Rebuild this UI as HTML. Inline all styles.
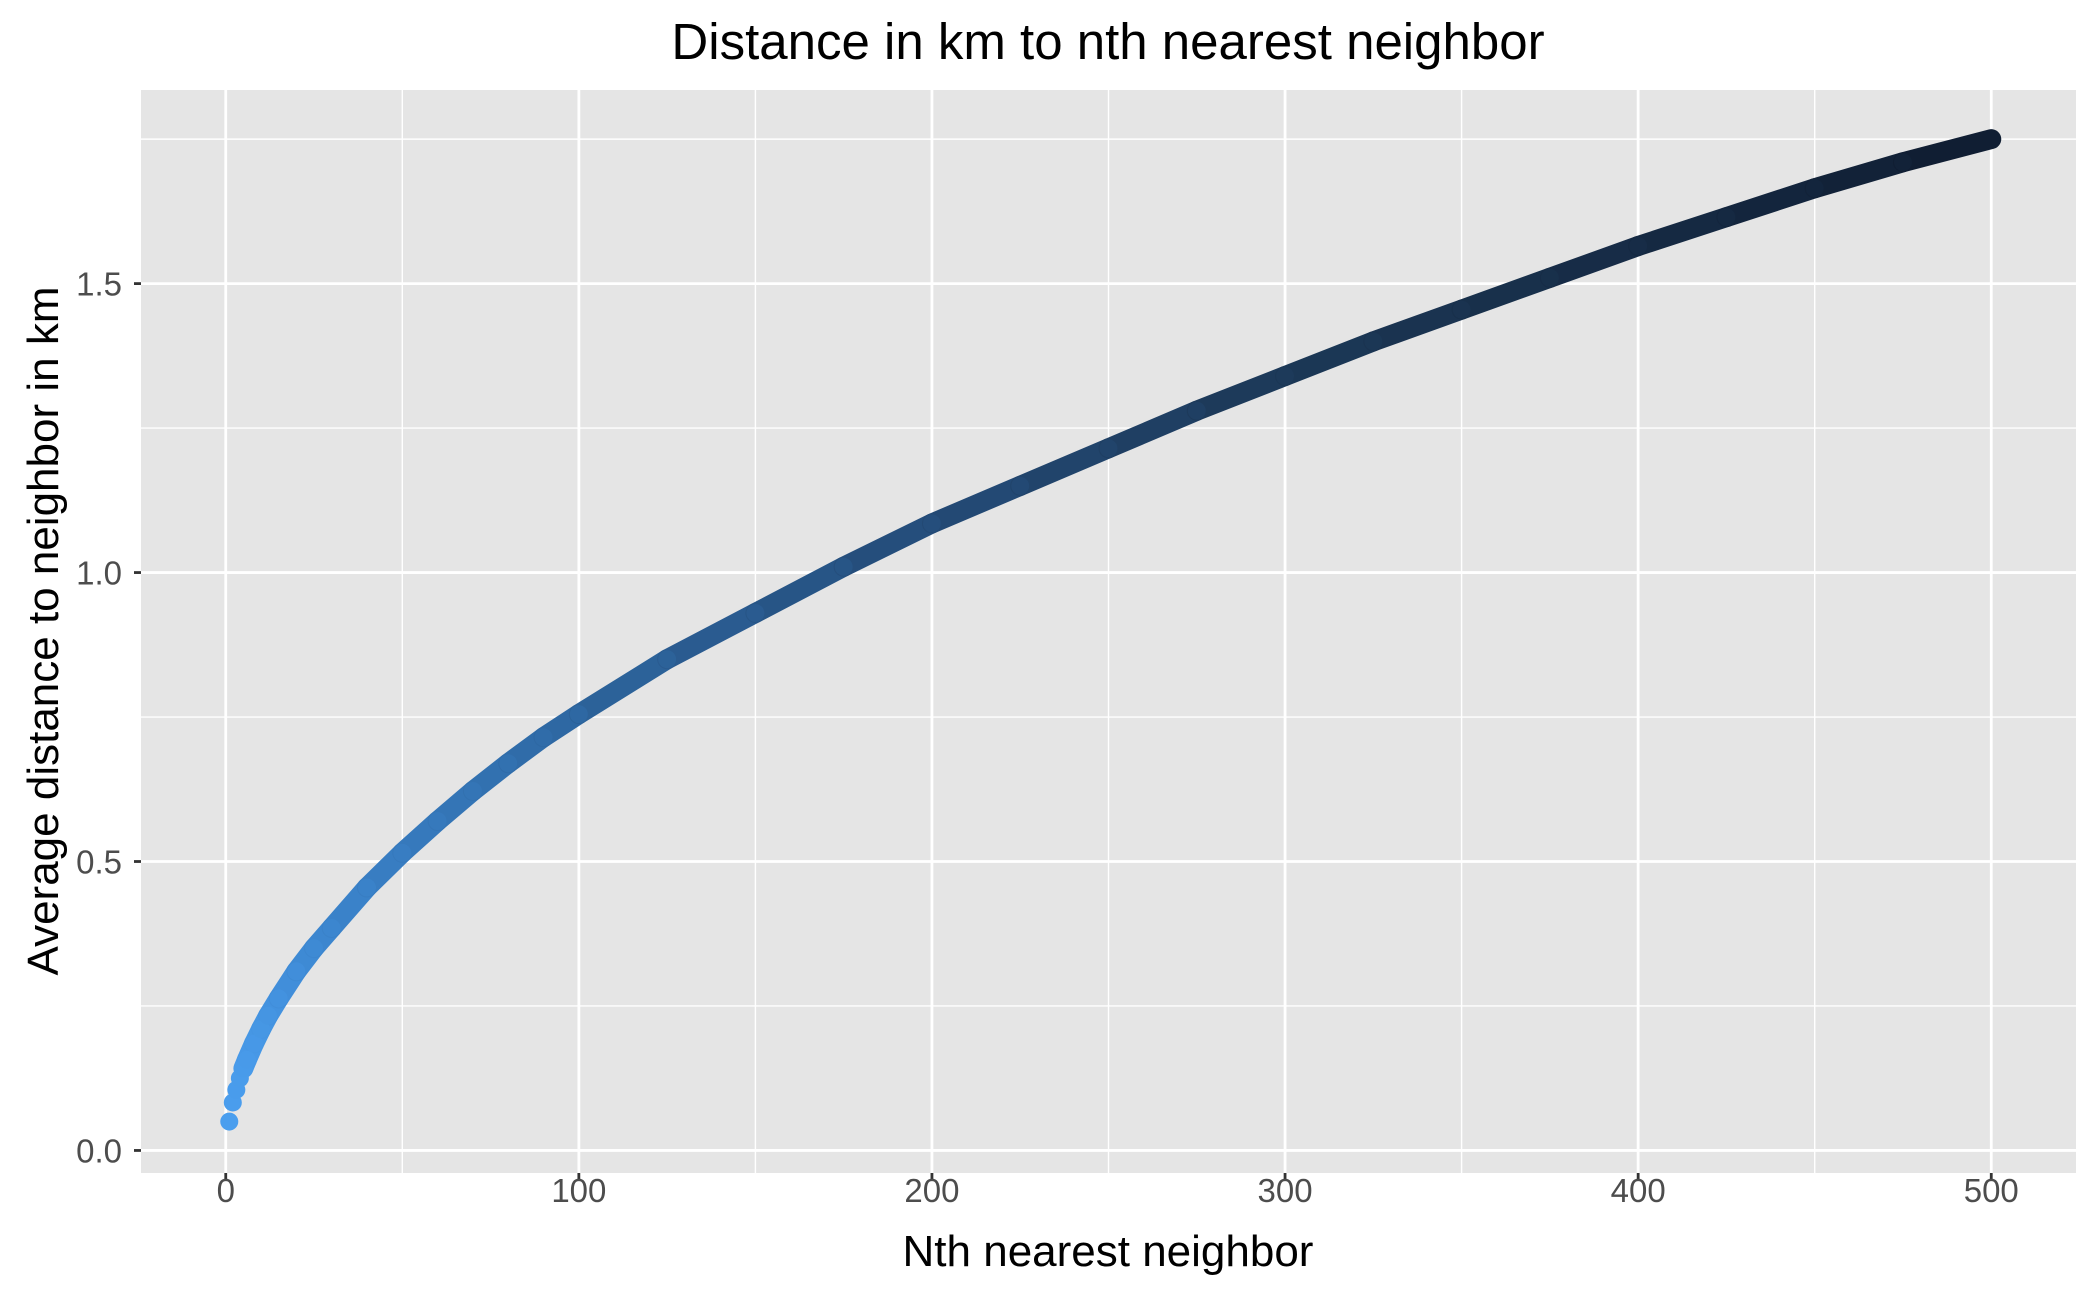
<!DOCTYPE html>
<html><head><meta charset="utf-8"><style>
html,body{margin:0;padding:0;background:#fff;}
svg{display:block;font-family:"Liberation Sans",Arial,sans-serif;}
</style></head><body>
<svg id="chart" width="2100" height="1297" viewBox="0 0 2100 1297">
<rect x="0" y="0" width="2100" height="1297" fill="#fff"/>
<rect x="141" y="90" width="1935" height="1083" fill="#E5E5E5"/>
<g id="grid"></g><g id="series"></g><g id="axes"></g>
<text x="1108" y="59" font-size="51" text-anchor="middle" fill="#000">Distance in km to nth nearest neighbor</text>
<text x="1108" y="1266" font-size="44" text-anchor="middle" fill="#000">Nth nearest neighbor</text>
<text x="0" y="0" font-size="44" text-anchor="middle" fill="#000" transform="translate(58,631) rotate(-90)">Average distance to neighbor in km</text>
</svg>
<script>
const neighborN = [1,2,3,4,5,6,8,10,12,15,20,25,30,40,50,60,70,80,90,100,125,150,175,200,225,250,275,300,325,350,375,400,425,450,475,500];
const avgDistKm = [0.05,0.083,0.105,0.125,0.142,0.157,0.185,0.21,0.233,0.263,0.31,0.35,0.385,0.455,0.515,0.57,0.622,0.67,0.715,0.755,0.85,0.93,1.01,1.085,1.15,1.215,1.28,1.34,1.40,1.455,1.51,1.565,1.615,1.665,1.71,1.75];
const xTicks = [0,100,200,300,400,500];
const xMinor = [50,150,250,350,450];
const yTicks = [0,0.5,1.0,1.5];
const yTickLabels = ["0.0","0.5","1.0","1.5"];
const yMinor = [0.25,0.75,1.25,1.75];

const NS="http://www.w3.org/2000/svg";
const px0=141, px1=2076, py0=90, py1=1173;
const xmin=-24, xmax=524, ymin=-0.039, ymax=1.835;
const X=v=>px0+(v-xmin)/(xmax-xmin)*(px1-px0);
const Y=v=>py1-(v-ymin)/(ymax-ymin)*(py1-py0);
function mk(tag,attrs,parent){const e=document.createElementNS(NS,tag);for(const k in attrs)e.setAttribute(k,attrs[k]);parent.appendChild(e);return e;}
const grid=document.getElementById('grid'), series=document.getElementById('series'), axes=document.getElementById('axes');
xMinor.forEach(v=>{const l=mk('line',{x1:X(v),x2:X(v),y1:py0,y2:py1,stroke:'#fff','stroke-width':1.4},grid);

});
yMinor.forEach(v=>{const l=mk('line',{x1:px0,x2:px1,y1:Y(v),y2:Y(v),stroke:'#fff','stroke-width':1.4},grid);

});
xTicks.forEach(v=>{const l=mk('line',{x1:X(v),x2:X(v),y1:py0,y2:py1,stroke:'#fff','stroke-width':2.8},grid);


const t=mk('line',{x1:X(v),x2:X(v),y1:py1,y2:py1+7,stroke:'#333','stroke-width':2.8},axes);


const tx=mk('text',{x:X(v),y:1202,'font-size':33,'text-anchor':'middle',fill:'#4D4D4D'},axes);tx.textContent=v;

});
yTicks.forEach((v,i)=>{const l=mk('line',{x1:px0,x2:px1,y1:Y(v),y2:Y(v),stroke:'#fff','stroke-width':2.8},grid);


const t=mk('line',{x1:px0-7,x2:px0,y1:Y(v),y2:Y(v),stroke:'#333','stroke-width':2.8},axes);


const tx=mk('text',{x:px0-19,y:Y(v)+12,'font-size':33,'text-anchor':'end',fill:'#4D4D4D'},axes);tx.textContent=yTickLabels[i];

});
// colour ramp sampled from reference
const rampN=[1,30,100,200,300,500];
const rampC=[[0x4A,0x9E,0xEE],[0x3C,0x86,0xCF],[0x2E,0x68,0xA3],[0x25,0x4E,0x7C],[0x1D,0x3A,0x5A],[0x10,0x1E,0x33]];
function col(n){let k=0;while(k<rampN.length-2&&n>rampN[k+1])k++;
const t=Math.max(0,Math.min(1,(n-rampN[k])/(rampN[k+1]-rampN[k])));
return 'rgb('+rampC[k].map((a,i)=>Math.round(a+(rampC[k+1][i]-a)*t)).join(',')+')';}
for(let i=0;i<neighborN.length;i++){
  if(i>0 && neighborN[i]>=6){
    const s=mk('line',{x1:X(neighborN[i-1]),y1:Y(avgDistKm[i-1]),x2:X(neighborN[i]),y2:Y(avgDistKm[i]),stroke:col(neighborN[i]),'stroke-width':20,'stroke-linecap':'round'},series);
    
    
  }
}
for(let i=0;i<neighborN.length;i++){
  const p=mk('circle',{cx:X(neighborN[i]),cy:Y(avgDistKm[i]),r:9,fill:col(neighborN[i])},series);
  
  
}
</script>
</body></html>
